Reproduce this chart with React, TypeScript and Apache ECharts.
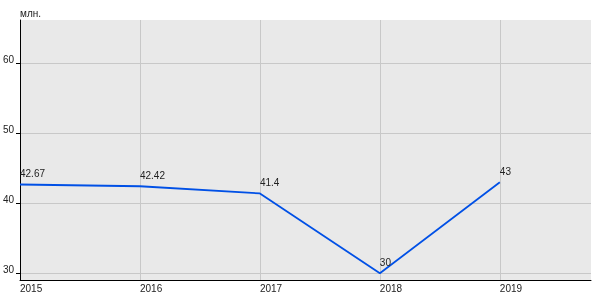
import React, { useEffect, useRef } from "react";
import * as echarts from "echarts";

const years = [2015, 2016, 2017, 2018, 2019];
const values = [42.67, 42.42, 41.4, 30, 43];
const labels = ["42.67", "42.42", "41.4", "30", "43"];
const yTicks = [30, 40, 50, 60];
const unit = "млн.";

export default function App() {
  const ref = useRef<HTMLDivElement>(null);
  useEffect(() => {
    const chart = echarts.init(ref.current!, null, { renderer: "svg" });
    const font = "Arial, 'Liberation Sans', sans-serif";
    chart.setOption({
      animation: false,
      grid: {
        left: 20,
        right: 9,
        top: 20,
        bottom: 20,
        show: true,
        backgroundColor: "#e9e9e9",
        borderWidth: 0,
        containLabel: false,
        outerBoundsMode: "none",
      },
      graphic: [
        {
          type: "text",
          left: 20,
          top: 8,
          style: { text: unit, fontSize: 10, fontFamily: font, fill: "#222" },
        },
      ],
      xAxis: {
        type: "value",
        min: 2015,
        max: 2019.76,
        axisLine: { show: true, onZero: false, lineStyle: { color: "#000", width: 1 } },
        axisTick: { show: false, customValues: years },
        axisLabel: {
          customValues: years,
          formatter: (v: number) => String(v),
          align: "left",
          margin: 3,
          fontSize: 10,
          fontFamily: font,
          color: "#222",
        },
        splitLine: { show: true, lineStyle: { color: "#c8c8c8", width: 1 } },
      },
      yAxis: {
        type: "value",
        min: 29.04,
        max: 66.14,
        axisLine: { show: true, lineStyle: { color: "#000", width: 1 } },
        axisTick: { show: true, length: 4, customValues: yTicks, lineStyle: { color: "#000" } },
        axisLabel: {
          customValues: yTicks,
          margin: 6,
          fontSize: 10,
          fontFamily: font,
          color: "#222",
          verticalAlign: "bottom",
          lineHeight: 7,
        },
        splitLine: { show: true, lineStyle: { color: "#c8c8c8", width: 1 } },
      },
      series: [
        {
          type: "line",
          data: years.map((y, i) => [y, values[i]]),
          symbol: "circle",
          symbolSize: 1,
          itemStyle: { color: "transparent", borderWidth: 0 },
          lineStyle: { color: "#0050e6", width: 1.8 },
          label: {
            show: true,
            position: "top",
            align: "left",
            distance: 5,
            fontSize: 10,
            fontFamily: font,
            color: "#222",
            formatter: (p: any) => labels[p.dataIndex],
          },
        },
      ],
    });
    return () => chart.dispose();
  }, []);
  return (
    <div
      ref={ref}
      style={{ position: "fixed", left: 0, top: 0, width: 600, height: 300 }}
    />
  );
}
